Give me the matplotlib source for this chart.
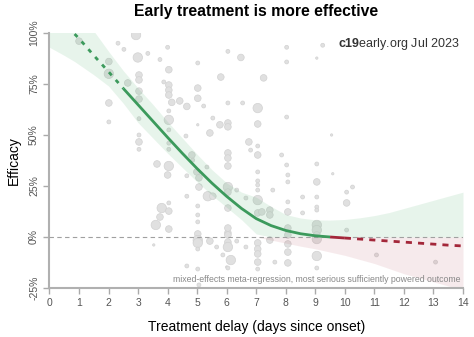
import matplotlib
matplotlib.use('Agg')
import matplotlib.pyplot as plt
import numpy as np

plt.rcParams['font.family'] = ['Liberation Sans', 'DejaVu Sans']
plt.rcParams['mathtext.fontset'] = 'custom'
plt.rcParams['mathtext.bf'] = 'Liberation Sans:bold'
plt.rcParams['mathtext.rm'] = 'Liberation Sans'

# study points: treatment delay (days), efficacy (%), weight class 0..4
study_delay = [1.0, 2.32, 2.52, 2.93, 2.99, 3.33, 3.74, 4.0, 2.01, 2.01, 2.65, 3.03, 3.03, 3.03,
               3.03, 3.03, 2.01, 2.01, 4.04, 3.87, 4.04, 4.04, 4.04, 4.14, 4.41, 4.65, 4.04,
               4.04, 4.04, 5.02, 5.02, 5.02, 5.22, 5.8, 6.04, 6.04, 6.04, 5.53, 5.77, 5.43,
               4.62, 3.03, 3.03, 3.03, 3.64, 4.04, 4.82, 4.85, 5.33, 6.04, 6.04, 6.04, 5.02,
               9.25, 8.03, 8.03, 9.05, 6.48, 7.25, 6.54, 7.05, 8.03, 7.05, 9.55, 6.75, 6.81,
               7.05, 7.05, 7.86, 8.03, 9.05, 6.04, 4.04, 4.04, 4.0, 4.65, 4.99, 5.06, 5.06,
               5.36, 5.53, 4.65, 5.02, 5.02, 5.02, 3.8, 4.04, 4.04, 3.74, 3.6, 4.04, 5.02,
               5.02, 5.02, 5.43, 5.02, 3.53, 4.65, 5.02, 5.06, 6.04, 6.04, 6.04, 5.87, 6.14,
               6.0, 6.34, 6.04, 6.04, 6.04, 6.34, 7.05, 8.07, 8.07, 9.05, 7.05, 7.05, 7.05,
               7.56, 7.05, 6.65, 6.04, 7.05, 7.19, 7.46, 7.46, 8.07, 8.07, 8.57, 9.05, 9.05,
               9.05, 8.57, 9.05, 9.05, 9.05, 9.05, 9.05, 9.05, 8.07, 8.07, 8.07, 8.07, 8.07,
               7.46, 7.63, 7.05, 7.05, 7.05, 7.05, 7.05, 6.65, 6.04, 6.04, 5.66, 9.59, 10.26,
               10.06, 10.06, 10.06, 11.07, 13.07]
study_eff = [96, 95, 92, 99, 88, 90, 87, 93, 86, 80, 75.5, 79.4, 77, 71.5,
             67.6, 58, 65.7, 56.4, 82, 76, 74.5, 72, 69.6, 66, 66.7, 64, 61.8,
             57.4, 52.5, 85.3, 73, 68, 64.2, 78.4, 91, 65.7, 55.9, 58.3, 55, 51,
             49.5, 50, 46.6, 43, 35.8, 34.8, 40.2, 37.7, 34.3, 41.2, 38.7, 34.8, 55,
             94, 93, 85.8, 87.7, 88, 78, 65.7, 63.2, 58.8, 55.4, 50, 46.6, 42.6,
             44.6, 40.2, 40.2, 35.3, 35.8, 54, 46, 43, 30.4, 30, 31.9, 29, 24.5,
             20, 20, 20, 15.2, 10.8, 7.4, 14.2, 16.7, 12.7, 9.8, 5.9, 3.9, 1.5,
             -1.5, -2.9, -2, -5.9, -3.9, -14.2, -15.7, -23.5, -2.5, -4.9, 2, -8.8, -11.3,
             -14.7, -2, 4.4, 24.5, 22, 23, 31.9, 30.4, 27, 27, 27.5, 25.5, 23,
             23, 18.1, 19.1, 14.2, 11.8, 12.3, 13.2, 10.8, 17.2, 12.3, 19.6, 19.6, 14.7,
             13.2, 11.8, 5.9, 3.4, 1, -1, -9.3, -15.2, 4.4, 1, -3.4, -7.4, -12.7,
             -1.5, -12.3, -2.9, -5.9, -8.3, -12.3, -15.7, -4.9, 1, -15.2, -4.9, 31, 24.5,
             22, 16.7, 3.4, -8.8, -12.3]
study_weight = [3, 1, 1, 4, 4, 1, 1, 1, 3, 4, 3, 3, 3, 3,
                3, 1, 3, 1, 3, 1, 3, 3, 3, 3, 3, 3, 1,
                4, 1, 1, 3, 3, 1, 3, 1, 1, 3, 1, 3, 3,
                1, 1, 3, 1, 3, 4, 3, 1, 1, 3, 3, 3, 0,
                1, 1, 1, 0, 3, 3, 1, 4, 1, 3, 0, 3, 1,
                1, 3, 1, 1, 1, 3, 1, 1, 3, 1, 3, 3, 3,
                4, 3, 1, 1, 1, 1, 4, 1, 3, 3, 4, 3, 3,
                4, 4, 3, 1, 0, 1, 1, 1, 3, 4, 3, 1, 4,
                0, 1, 3, 4, 3, 1, 1, 1, 1, 3, 1, 1, 1,
                1, 4, 1, 3, 3, 3, 3, 3, 1, 3, 1, 1, 1,
                1, 1, 4, 4, 3, 4, 4, 1, 3, 3, 3, 3, 3,
                3, 1, 3, 3, 3, 3, 1, 1, 3, 1, 1, 0, 1,
                1, 3, 1, 1, 1]

# fitted meta-regression curve and confidence band (%)
fit_delay = [0.0, 0.5, 0.85, 1.0, 1.5, 2.0, 2.5, 3.0, 3.5, 4.0, 4.5, 5.0, 5.5, 6.0, 6.5, 7.0,
             7.5, 8.0, 8.5, 9.0, 9.5, 10.0, 10.5, 11.0, 11.5, 12.0, 12.5, 13.0, 13.5, 14.0]
fit_eff = [113.5, 105.3, 99.5, 97.3, 89, 81, 72.8, 64.8, 56.8, 48.8, 41, 33.5, 26.4, 19.9,
           14.0, 9.0, 5.6, 3.2, 1.6, 0.6, 0.0, -0.5, -1.0, -1.5, -2.0, -2.5, -3.0, -3.5,
           -4.0, -4.4]
band_low = [93, 89, 86, 84.5, 79.5, 74, 65.5, 56, 48.5, 41, 34, 27, 20.5, 14.5, 8.5, 1.5,
            -1.5, -3, -4.5, -5.8, -7.4, -9, -11, -13, -15.5, -18, -20, -22, -24, -26]
band_high = [133, 124, 118, 114, 101, 91, 81.5, 73, 65, 56.5, 48.5, 40.5, 33, 26.5, 22,
             19.5, 15, 11, 9.3, 8.4, 8.3, 8.6, 9.4, 10.5, 12, 14, 16, 18, 20, 22]

x_ticks = list(range(0, 15))
y_ticks = [-25, 0, 25, 50, 75, 100]
y_ticklabels = ['-25%', '0%', '25%', '50%', '75%', '100%']

fig = plt.figure(figsize=(4.74, 3.37), dpi=100)
ax = fig.add_axes([0.1044, 0.1454, 0.8724, 0.7567])

area = {0: 3, 1: 8, 2: 14, 3: 23, 4: 46}
ax.scatter(study_delay, study_eff, s=[area[w] for w in study_weight],
           facecolor='#e0e0e0', edgecolor='#d2d2d2', linewidth=0.5, zorder=1)

fd = np.array(fit_delay)
fe = np.array(fit_eff)
lo = np.array(band_low)
hi = np.array(band_high)
ax.fill_between(fd, np.maximum(lo, 0), hi, color='#4caf6a', alpha=0.13, linewidth=0, zorder=2)
ax.fill_between(fd, np.minimum(lo, 0), 0, color='#b03a4a', alpha=0.10, linewidth=0, zorder=2)

ax.axhline(0, color='#a0a0a0', lw=0.8, ls=(0, (4, 3)), zorder=3)

green = '#3c9a5c'
red = '#a3273a'
m = (fd >= 0.85) & (fd <= 2.5)
ax.plot(fd[m], fe[m], color=green, lw=2, ls=(0, (1.5, 2.2)), zorder=4)
m = (fd >= 2.5) & (fd <= 9.5)
ax.plot(fd[m], fe[m], color=green, lw=2, zorder=4, solid_capstyle='butt')
m = (fd >= 9.5) & (fd <= 10)
ax.plot(fd[m], fe[m], color=red, lw=2, zorder=4, solid_capstyle='butt')
m = fd >= 10
ax.plot(fd[m], fe[m], color=red, lw=2, ls=(0, (2.2, 2.2)), zorder=4)

ax.set_xlim(0, 14)
ax.set_ylim(-25, 100)
ax.set_xticks(x_ticks)
ax.set_yticks(y_ticks)
ax.set_yticklabels(y_ticklabels, rotation=90, va='center')
ax.tick_params(colors='#aaaaaa', labelcolor='#555555', labelsize=7.5, length=4, width=1)
for s in ['top', 'right']:
    ax.spines[s].set_visible(False)
for s in ['left', 'bottom']:
    ax.spines[s].set_color('#b0b0b0')
    ax.spines[s].set_linewidth(1.5)

ax.set_xlabel('Treatment delay (days since onset)', fontsize=10, labelpad=8)
ax.set_ylabel('Efficacy', fontsize=10, labelpad=6)
ax.set_title('Early treatment is more effective', fontsize=11.3, fontweight='bold', pad=12)

ax.text(13.9, 94.5, r'$\bf{c19}$early.org Jul 2023', ha='right', va='center',
        fontsize=9, color='#333333', zorder=5)
ax.text(13.9, -21, 'mixed-effects meta-regression, most serious sufficiently powered outcome',
        ha='right', va='center', fontsize=6.3, color='#888888', zorder=5)

fig.savefig('out.png', dpi=100, facecolor='white')
